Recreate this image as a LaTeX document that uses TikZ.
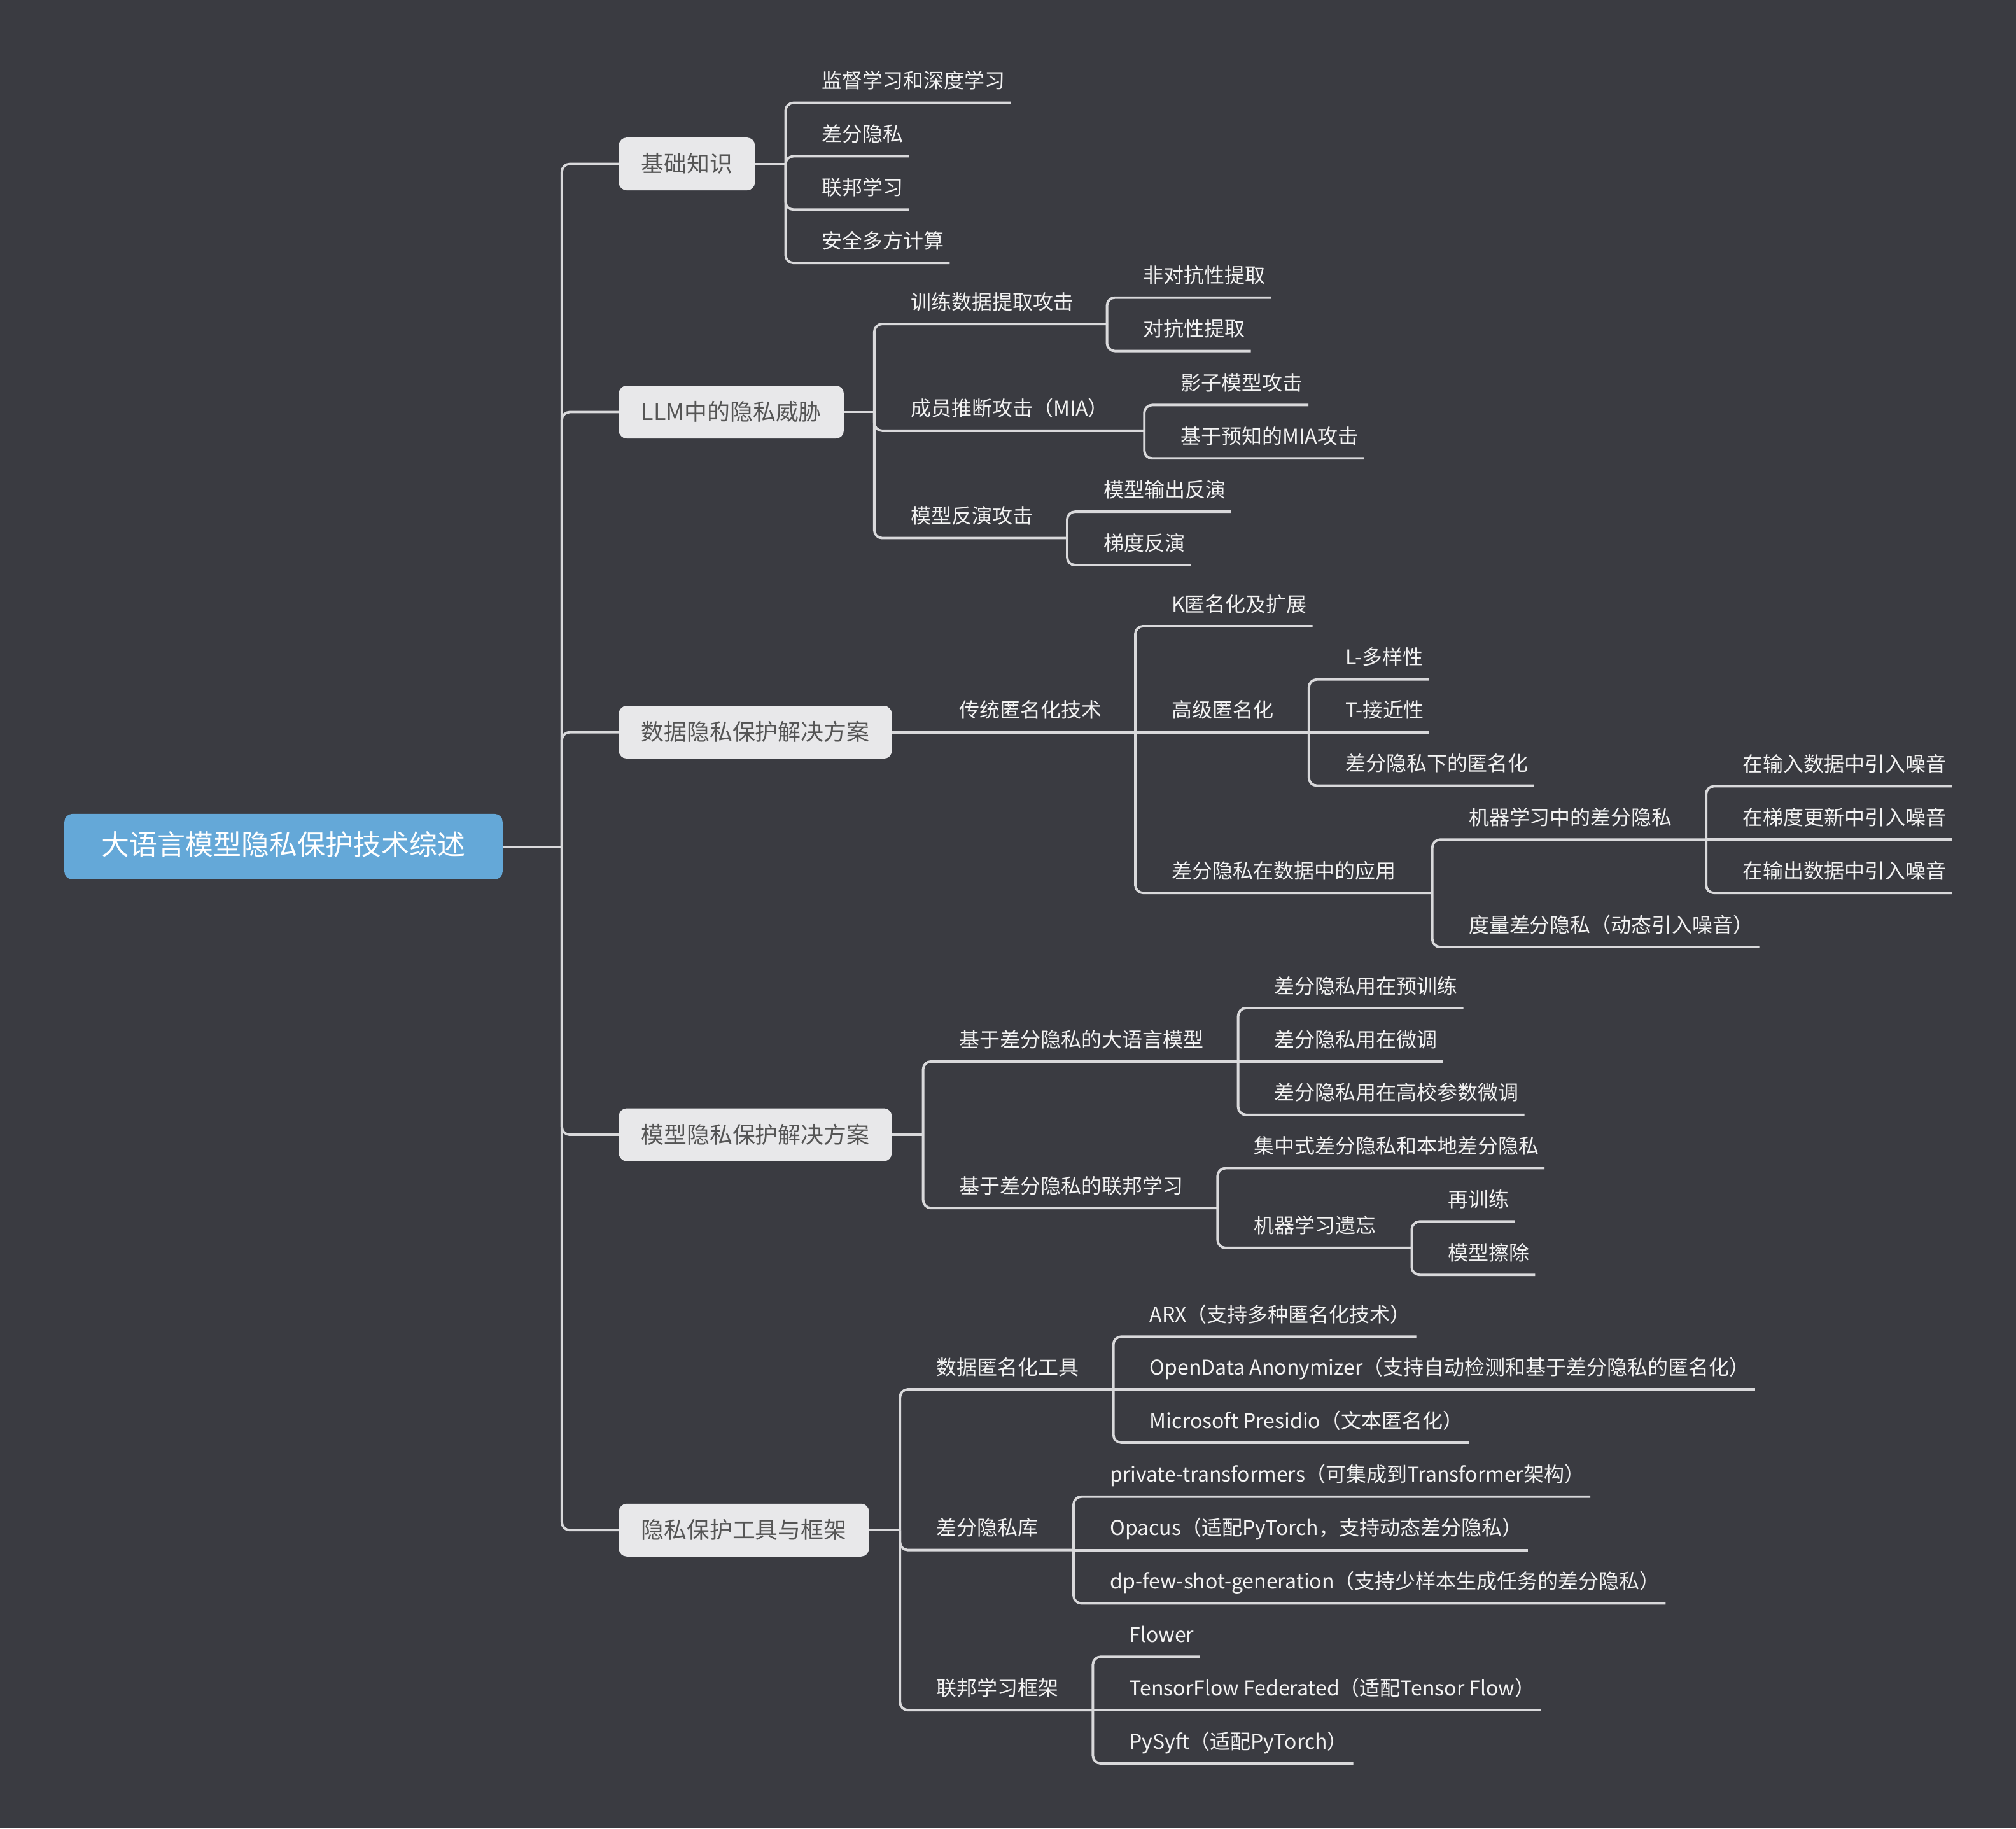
\documentclass[tikz,border=0pt]{standalone}
\usepackage{fontspec}
\setmainfont{Noto Sans CJK SC}
\usepackage{xcolor}
\usepackage{tikz}
\definecolor{mmbg}{HTML}{3A3B41}
\definecolor{mmline}{HTML}{D9D9DB}
\definecolor{mmroot}{HTML}{64A8D8}
\definecolor{mmtopic}{HTML}{E8E8EA}
\definecolor{mmtopictext}{HTML}{555555}
\definecolor{mmtext}{HTML}{F2F2F2}
\tikzset{
  rootbox/.style={fill=mmroot,rounded corners=3.5pt,text=white,inner xsep=16.7pt,minimum height=29.3pt,
    text height=0.83em,text depth=0.07em,font=\fontsize{12.5}{15}\selectfont},
  topicbox/.style={anchor=west,fill=mmtopic,rounded corners=3.5pt,text=mmtopictext,inner xsep=10pt,minimum height=23.6pt,
    text height=0.83em,text depth=0.07em,font=\fontsize{10.2}{12}\selectfont},
  subnode/.style={anchor=south west,inner xsep=2.3pt,inner ysep=6.3pt,text height=0.83em,text depth=0pt,
    text=mmtext,font=\fontsize{9.1}{11}\selectfont},
  branch/.style={draw=mmline,line width=1.1pt,rounded corners=3.5pt},
}

\begin{document}
\begin{tikzpicture}[x=0.0202cm,y=-0.0202cm]
  \fill[mmbg] (0,0) rectangle (1568,1422);
  % root and main topics
  \node[rootbox] (nRoot) at (220.5,658.5) {大语言模型隐私保护技术综述};
  \coordinate (jRoot) at (437,658.5);
  \node[topicbox] (nBasics) at (481,127.5) {基础知识};
  \node[topicbox] (nThreat) at (481,320.5) {LLM中的隐私威胁};
  \node[topicbox] (nData) at (481,569.5) {数据隐私保护解决方案};
  \node[topicbox] (nModel) at (481,882.5) {模型隐私保护解决方案};
  \node[topicbox] (nTools) at (481,1190) {隐私保护工具与框架};
  \draw[branch] (nRoot.east) -- (jRoot);
  \draw[branch] (jRoot) |- (nBasics.west);
  \draw[branch] (jRoot) |- (nThreat.west);
  \draw[branch] (jRoot) |- (nData.west);
  \draw[branch] (jRoot) |- (nModel.west);
  \draw[branch] (jRoot) |- (nTools.west);
  % basics
  \coordinate (jBasics) at (611,127.5);
  \node[subnode] (nB1) at (635,80) {监督学习和深度学习};
  \node[subnode] (nB2) at (635,121.5) {差分隐私};
  \node[subnode] (nB3) at (635,163) {联邦学习};
  \node[subnode] (nB4) at (635,204.5) {安全多方计算};
  \draw[branch] (nBasics.east) -- (jBasics);
  \draw[branch] (jBasics) |- (nB1.south west) -- (nB1.south east);
  \draw[branch] (jBasics) |- (nB2.south west) -- (nB2.south east);
  \draw[branch] (jBasics) |- (nB3.south west) -- (nB3.south east);
  \draw[branch] (jBasics) |- (nB4.south west) -- (nB4.south east);
  % threats
  \coordinate (jThreat) at (680,320.5);
  \node[subnode] (nT1) at (704,252) {训练数据提取攻击};
  \coordinate (jT1) at (861,252);
  \node[subnode] (nT2) at (704,335) {成员推断攻击（MIA）};
  \coordinate (jT2) at (890,335);
  \node[subnode] (nT3) at (704,418.5) {模型反演攻击};
  \coordinate (jT3) at (830,418.5);
  \node[subnode] (nT11) at (885,231.5) {非对抗性提取};
  \node[subnode] (nT12) at (885,273) {对抗性提取};
  \node[subnode] (nT21) at (914,315) {影子模型攻击};
  \node[subnode] (nT22) at (914,356.5) {基于预知的MIA攻击};
  \node[subnode] (nT31) at (854,398) {模型输出反演};
  \node[subnode] (nT32) at (854,439.5) {梯度反演};
  \draw[branch] (nThreat.east) -- (jThreat);
  \draw[branch] (jThreat) |- (nT1.south west) -- (jT1);
  \draw[branch] (jThreat) |- (nT2.south west) -- (jT2);
  \draw[branch] (jThreat) |- (nT3.south west) -- (jT3);
  \draw[branch] (jT1) |- (nT11.south west) -- (nT11.south east);
  \draw[branch] (jT1) |- (nT12.south west) -- (nT12.south east);
  \draw[branch] (jT2) |- (nT21.south west) -- (nT21.south east);
  \draw[branch] (jT2) |- (nT22.south west) -- (nT22.south east);
  \draw[branch] (jT3) |- (nT31.south west) -- (nT31.south east);
  \draw[branch] (jT3) |- (nT32.south west) -- (nT32.south east);
  % data protection
  \coordinate (jData) at (718,569.5);
  \node[subnode] (nD1) at (742,569.5) {传统匿名化技术};
  \coordinate (jD1) at (883,569.5);
  \node[subnode] (nD11) at (907,487) {K匿名化及扩展};
  \node[subnode] (nD12) at (907,569.5) {高级匿名化};
  \coordinate (jD12) at (1018,569.5);
  \node[subnode] (nD13) at (907,694.5) {差分隐私在数据中的应用};
  \coordinate (jD13) at (1114,694.5);
  \node[subnode] (nD121) at (1042,528.5) {L-多样性};
  \node[subnode] (nD122) at (1042,569.5) {T-接近性};
  \node[subnode] (nD123) at (1042,611) {差分隐私下的匿名化};
  \node[subnode] (nD131) at (1138,653) {机器学习中的差分隐私};
  \coordinate (jD131) at (1327,653);
  \node[subnode] (nD132) at (1138,736.5) {度量差分隐私（动态引入噪音）};
  \node[subnode] (nD1311) at (1351,611.5) {在输入数据中引入噪音};
  \node[subnode] (nD1312) at (1351,653) {在梯度更新中引入噪音};
  \node[subnode] (nD1313) at (1351,694.5) {在输出数据中引入噪音};
  \draw[branch] (nData.east) -- (jData) -- (nD1.south west) -- (jD1);
  \draw[branch] (jD1) |- (nD11.south west) -- (nD11.south east);
  \draw[branch] (jD1) -- (nD12.south west) -- (jD12);
  \draw[branch] (jD1) |- (nD13.south west) -- (jD13);
  \draw[branch] (jD12) |- (nD121.south west) -- (nD121.south east);
  \draw[branch] (jD12) -- (nD122.south west) -- (nD122.south east);
  \draw[branch] (jD12) |- (nD123.south west) -- (nD123.south east);
  \draw[branch] (jD13) |- (nD131.south west) -- (jD131);
  \draw[branch] (jD13) |- (nD132.south west) -- (nD132.south east);
  \draw[branch] (jD131) |- (nD1311.south west) -- (nD1311.south east);
  \draw[branch] (jD131) -- (nD1312.south west) -- (nD1312.south east);
  \draw[branch] (jD131) |- (nD1313.south west) -- (nD1313.south east);
  % model protection
  \coordinate (jModel) at (718,882.5);
  \node[subnode] (nM1) at (742,825.5) {基于差分隐私的大语言模型};
  \coordinate (jM1) at (963,825.5);
  \node[subnode] (nM2) at (742,939.5) {基于差分隐私的联邦学习};
  \coordinate (jM2) at (947,939.5);
  \node[subnode] (nM11) at (987,784) {差分隐私用在预训练};
  \node[subnode] (nM12) at (987,825.5) {差分隐私用在微调};
  \node[subnode] (nM13) at (987,867) {差分隐私用在高校参数微调};
  \node[subnode] (nM21) at (971,908.5) {集中式差分隐私和本地差分隐私};
  \node[subnode] (nM22) at (971,970.5) {机器学习遗忘};
  \coordinate (jM22) at (1098,970.5);
  \node[subnode] (nM221) at (1122,950) {再训练};
  \node[subnode] (nM222) at (1122,991.5) {模型擦除};
  \draw[branch] (nModel.east) -- (jModel);
  \draw[branch] (jModel) |- (nM1.south west) -- (jM1);
  \draw[branch] (jModel) |- (nM2.south west) -- (jM2);
  \draw[branch] (jM1) |- (nM11.south west) -- (nM11.south east);
  \draw[branch] (jM1) -- (nM12.south west) -- (nM12.south east);
  \draw[branch] (jM1) |- (nM13.south west) -- (nM13.south east);
  \draw[branch] (jM2) |- (nM21.south west) -- (nM21.south east);
  \draw[branch] (jM2) |- (nM22.south west) -- (jM22);
  \draw[branch] (jM22) |- (nM221.south west) -- (nM221.south east);
  \draw[branch] (jM22) |- (nM222.south west) -- (nM222.south east);
  % tools
  \coordinate (jTools) at (700,1190);
  \node[subnode] (nTl1) at (724,1080.5) {数据匿名化工具};
  \coordinate (jTl1) at (866,1080.5);
  \node[subnode] (nTl2) at (724,1205.5) {差分隐私库};
  \coordinate (jTl2) at (835,1205.5);
  \node[subnode] (nTl3) at (724,1330) {联邦学习框架};
  \coordinate (jTl3) at (850,1330);
  \node[subnode] (nTl11) at (890,1039.5) {ARX（支持多种匿名化技术）};
  \node[subnode] (nTl12) at (890,1080.5) {OpenData Anonymizer（支持自动检测和基于差分隐私的匿名化）};
  \node[subnode] (nTl13) at (890,1122) {Microsoft Presidio（文本匿名化）};
  \node[subnode] (nTl21) at (859,1164) {private-transformers（可集成到Transformer架构）};
  \node[subnode] (nTl22) at (859,1205.5) {Opacus（适配PyTorch，支持动态差分隐私）};
  \node[subnode] (nTl23) at (859,1247) {dp-few-shot-generation（支持少样本生成任务的差分隐私）};
  \node[subnode] (nTl31) at (874,1288.5) {Flower};
  \node[subnode] (nTl32) at (874,1330) {TensorFlow Federated（适配Tensor Flow）};
  \node[subnode] (nTl33) at (874,1371.5) {PySyft（适配PyTorch）};
  \draw[branch] (nTools.east) -- (jTools);
  \draw[branch] (jTools) |- (nTl1.south west) -- (jTl1);
  \draw[branch] (jTools) |- (nTl2.south west) -- (jTl2);
  \draw[branch] (jTools) |- (nTl3.south west) -- (jTl3);
  \draw[branch] (jTl1) |- (nTl11.south west) -- (nTl11.south east);
  \draw[branch] (jTl1) -- (nTl12.south west) -- (nTl12.south east);
  \draw[branch] (jTl1) |- (nTl13.south west) -- (nTl13.south east);
  \draw[branch] (jTl2) |- (nTl21.south west) -- (nTl21.south east);
  \draw[branch] (jTl2) -- (nTl22.south west) -- (nTl22.south east);
  \draw[branch] (jTl2) |- (nTl23.south west) -- (nTl23.south east);
  \draw[branch] (jTl3) |- (nTl31.south west) -- (nTl31.south east);
  \draw[branch] (jTl3) -- (nTl32.south west) -- (nTl32.south east);
  \draw[branch] (jTl3) |- (nTl33.south west) -- (nTl33.south east);
\end{tikzpicture}
\end{document}
